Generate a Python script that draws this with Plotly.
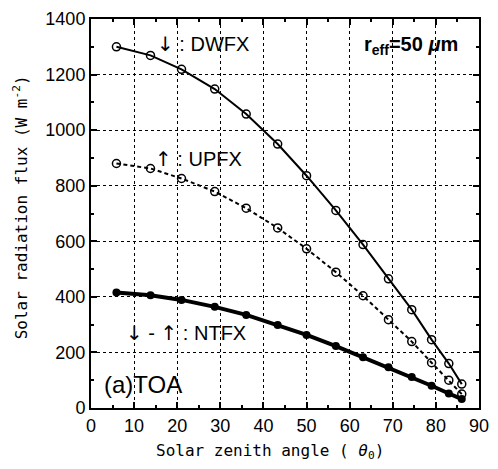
import plotly.graph_objects as go

# Data
sza = [5.9, 13.8, 21.0, 28.7, 36.0, 43.3, 50.0, 56.8, 63.1, 69.0, 74.4, 79.0, 83.0, 86.0]
dwfx = [1300, 1269, 1219, 1148, 1058, 950, 836, 711, 588, 465, 354, 246, 160, 86]
upfx = [880, 862, 826, 779, 719, 648, 573, 489, 404, 318, 239, 163, 100, 50]
ntfx = [416, 406, 389, 364, 335, 299, 263, 223, 183, 147, 112, 80, 52, 32]

x_ticks = list(range(0, 91, 10))
y_ticks = list(range(0, 1401, 200))

fig = go.Figure()
fig.add_trace(go.Scatter(x=sza, y=dwfx, mode="lines+markers", name="DWFX",
                         line=dict(color="black", width=2),
                         marker=dict(symbol="circle-open", size=8, color="black", line=dict(width=1.5))))
fig.add_trace(go.Scatter(x=sza, y=upfx, mode="lines+markers", name="UPFX",
                         line=dict(color="black", width=2, dash="4px,3px"),
                         marker=dict(symbol="circle-open", size=8, color="black", line=dict(width=1.5))))
fig.add_trace(go.Scatter(x=sza, y=ntfx, mode="lines+markers", name="NTFX",
                         line=dict(color="black", width=4),
                         marker=dict(symbol="circle", size=8, color="black")))

axis_common = dict(
    showline=True, linecolor="black", linewidth=2, mirror="ticks",
    ticks="inside", ticklen=6, tickwidth=1.5, tickcolor="black",
    showgrid=True, gridcolor="black", gridwidth=1, griddash="dot",
    zeroline=False,
    tickfont=dict(family="Liberation Sans", size=18, color="black"),
)

fig.update_xaxes(range=[0, 90], tickvals=x_ticks,
                 minor=dict(dtick=5, ticks="inside", ticklen=3, tickcolor="black", showgrid=False),
                 **axis_common)
fig.update_yaxes(range=[0, 1400], tickvals=y_ticks,
                 minor=dict(dtick=100, ticks="inside", ticklen=3, tickcolor="black", showgrid=False),
                 **axis_common)

L, R, T, B = 91, 9, 16, 61
W, H = 498, 469
pw, ph = W - L - R, H - T - B


def px(x):
    return (x - L) / pw


def py(y):
    return (H - B - y) / ph


arrow_dn = '<span style="font-family:DejaVu Sans">↓</span>'
arrow_up = '<span style="font-family:DejaVu Sans">↑</span>'
txt_font = dict(family="Liberation Sans", size=20, color="black")
labels = [
    (157, 41, arrow_dn + " : DWFX"),
    (155, 157, arrow_up + " : UPFX"),
    (125, 332, arrow_dn + " - " + arrow_up + " : NTFX"),
]
for x, y, t in labels:
    fig.add_annotation(x=px(x), y=py(y), xref="paper", yref="paper", text=t,
                       showarrow=False, font=txt_font, xanchor="left", yanchor="middle")

fig.add_annotation(x=px(102), y=py(384), xref="paper", yref="paper", text="(a)TOA",
                   showarrow=False, font=dict(family="Liberation Sans", size=24, color="black"),
                   xanchor="left", yanchor="middle")
fig.add_annotation(x=px(470), y=py(43), xref="paper", yref="paper",
                   text="<b>r<sub>eff</sub>=50 <i>μ</i>m</b>",
                   showarrow=False, font=dict(family="Liberation Sans", size=20, color="black"),
                   xanchor="right", yanchor="middle")

title_font = dict(family="DejaVu Sans Mono", size=16, color="black")
fig.add_annotation(x=px(275), y=py(452), xref="paper", yref="paper",
                   text="Solar zenith angle ( <i>θ</i><sub>0</sub>)",
                   showarrow=False, font=title_font, xanchor="center", yanchor="middle")
fig.add_annotation(x=px(19), y=py(206), xref="paper", yref="paper",
                   text="Solar radiation flux (W m<sup>-2</sup>)", textangle=-90,
                   showarrow=False, font=title_font, xanchor="center", yanchor="middle")

fig.update_layout(width=W, height=H, margin=dict(l=L, r=R, t=T, b=B),
                  plot_bgcolor="white", paper_bgcolor="white", showlegend=False)

fig.write_html("out.html")
